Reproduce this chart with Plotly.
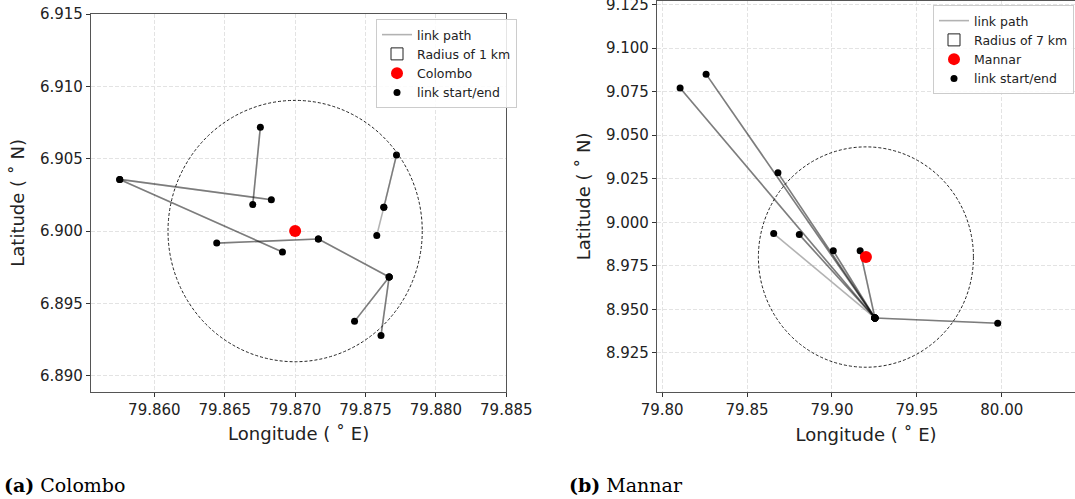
import plotly.graph_objects as go

# ---------------- data ----------------
# Colombo (panel a)
col_center_lon, col_center_lat = 79.870, 6.900
col_radius_deg = 0.00903          # 1 km
col_start_lon = [79.85754, 79.85754, 79.86753, 79.87720, 79.87580, 79.86443, 79.87165, 79.87668, 79.87668]
col_start_lat = [6.90357, 6.90357, 6.90718, 6.90525, 6.89970, 6.89917, 6.89945, 6.89683, 6.89683]
col_end_lon = [79.86831, 79.86910, 79.86699, 79.87630, 79.87630, 79.87165, 79.87668, 79.87422, 79.87610]
col_end_lat = [6.90217, 6.89855, 6.90183, 6.90164, 6.90164, 6.89945, 6.89683, 6.89376, 6.89279]
col_link_count = [2, 2, 2, 2, 1, 2, 2, 2, 2]

# Mannar (panel b)
man_center_lon, man_center_lat = 79.920, 8.980
man_radius_deg = 0.0633           # 7 km
man_start_lon = [79.8106, 79.8259, 79.8682, 79.8657, 79.8808, 79.9008, 79.9166, 79.9253]
man_start_lat = [9.0771, 9.0851, 9.0284, 8.9935, 8.9929, 8.9836, 8.9836, 8.9450]
man_end_lon = [79.9253, 79.9253, 79.9253, 79.9253, 79.9253, 79.9253, 79.9253, 79.9976]
man_end_lat = [8.9450, 8.9450, 8.9450, 8.9450, 8.9450, 8.9450, 8.9450, 8.9420]
man_link_count = [2, 2, 2, 1, 2, 2, 2, 2]

# ---------------- layout helpers ----------------
W, H = 1075, 499
def px_x(p): return p / W
def px_y(p): return 1 - p / H

LINE_COL = "rgba(0,0,0,0.3)"
FONT = "DejaVu Sans"
CIRCLE_LINE = dict(color="#222", width=1, dash="3px,2px")

fig = go.Figure()

def add_panel(xa, ya, legend, s_lon, s_lat, e_lon, e_lat, counts, c_lon, c_lat, r, cname, rname):
    first = True
    for i in range(len(s_lon)):
        for k in range(counts[i]):
            fig.add_trace(go.Scatter(
                x=[s_lon[i], e_lon[i]], y=[s_lat[i], e_lat[i]], mode="lines",
                line=dict(color=LINE_COL, width=1.6), xaxis=xa, yaxis=ya,
                name="link path", legendgroup=legend + "path", legend=legend,
                showlegend=first, legendrank=1, hoverinfo="skip"))
            first = False
    fig.add_trace(go.Scatter(
        x=s_lon + e_lon, y=s_lat + e_lat, mode="markers",
        marker=dict(color="black", size=7), xaxis=xa, yaxis=ya,
        name="link start/end", legend=legend, legendrank=4))
    fig.add_trace(go.Scatter(
        x=[c_lon], y=[c_lat], mode="markers",
        marker=dict(color="red", size=12), xaxis=xa, yaxis=ya,
        name=cname, legend=legend, legendrank=3))
    # the radius circle (drawn through the axes)
    fig.add_shape(type="circle", xref=xa, yref=ya,
                  x0=c_lon - r, x1=c_lon + r, y0=c_lat - r, y1=c_lat + r,
                  line=CIRCLE_LINE, fillcolor="rgba(0,0,0,0)", layer="above",
                  showlegend=False)
    # legend-only rectangle patch (placed outside the visible range, clipped)
    fig.add_shape(type="rect", xref=xa, yref=ya,
                  x0=c_lon + 50 * r, x1=c_lon + 51 * r, y0=c_lat + 50 * r, y1=c_lat + 51 * r,
                  line=CIRCLE_LINE, fillcolor="rgba(0,0,0,0)", layer="above",
                  showlegend=True, name=rname, legend=legend, legendrank=2)

add_panel("x", "y", "legend", col_start_lon, col_start_lat, col_end_lon, col_end_lat,
          col_link_count, col_center_lon, col_center_lat, col_radius_deg, "Colombo", "Radius of 1 km")
add_panel("x2", "y2", "legend2", man_start_lon, man_start_lat, man_end_lon, man_end_lat,
          man_link_count, man_center_lon, man_center_lat, man_radius_deg, "Mannar", "Radius of 7 km")

axis_common = dict(showline=True, linecolor="#555", linewidth=1.3, automargin=False,
                   ticks="outside", ticklen=4, tickcolor="#333", tickwidth=1,
                   ticklabeloverflow="allow",
                   showgrid=True, gridcolor="#e3e3e3", griddash="4px,2px", gridwidth=0.8,
                   zeroline=False, tickfont=dict(family=FONT, size=15, color="#222"),
                   title_font=dict(family=FONT, size=18, color="#222"))

fig.update_layout(
    width=W, height=H, margin=dict(l=0, r=0, t=0, b=0, autoexpand=False),
    paper_bgcolor="white", plot_bgcolor="white",
    xaxis=dict(domain=[px_x(91), px_x(506.3)], range=[79.8555, 79.885],
               tick0=79.86, dtick=0.005, tickformat=".3f", mirror=True,
               title=dict(text="Longitude ( ˚ E)", standoff=9), anchor="y", **axis_common),
    yaxis=dict(domain=[px_y(391.7), px_y(14)], range=[6.8889, 6.915],
               tick0=6.89, dtick=0.005, tickformat=".3f", mirror=True,
               title=dict(text="Latitude ( ˚ N)", standoff=10), anchor="x", **axis_common),
    xaxis2=dict(domain=[px_x(657), 1.0], range=[79.797, 80.0431],
                tick0=79.8, dtick=0.05, tickformat=".2f", mirror=True,
                title=dict(text="Longitude ( ˚ E)", standoff=9), anchor="y2", **axis_common),
    yaxis2=dict(domain=[px_y(392.3), px_y(0.5)], range=[8.9023, 9.1274],
                tick0=8.9, dtick=0.025, tickformat=".3f", mirror=False,
                title=dict(text="Latitude ( ˚ N)", standoff=10), anchor="x2", **axis_common),
    legend=dict(x=px_x(517), y=px_y(19), xanchor="right", yanchor="top",
                bgcolor="rgba(255,255,255,0.85)", bordercolor="#cccccc", borderwidth=1,
                font=dict(family=FONT, size=12.5, color="#222"), tracegroupgap=0,
                itemwidth=30),
    legend2=dict(x=px_x(1074), y=px_y(5), xanchor="right", yanchor="top",
                 bgcolor="rgba(255,255,255,0.85)", bordercolor="#cccccc", borderwidth=1,
                 font=dict(family=FONT, size=12.5, color="#222"), tracegroupgap=0,
                 itemwidth=30),
    showlegend=True,
)

fig.add_annotation(xref="paper", yref="paper", x=px_x(2), y=px_y(485),
                   xanchor="left", yanchor="middle", showarrow=False,
                   text="<b>(a)</b> Colombo",
                   font=dict(family="DejaVu Serif", size=19, color="black"))
fig.add_annotation(xref="paper", yref="paper", x=px_x(567), y=px_y(485),
                   xanchor="left", yanchor="middle", showarrow=False,
                   text="<b>(b)</b> Mannar",
                   font=dict(family="DejaVu Serif", size=19, color="black"))

fig.write_html("out.html", config={"displayModeBar": False},
               post_script="document.body.style.margin='0';document.body.style.overflow='hidden';")
